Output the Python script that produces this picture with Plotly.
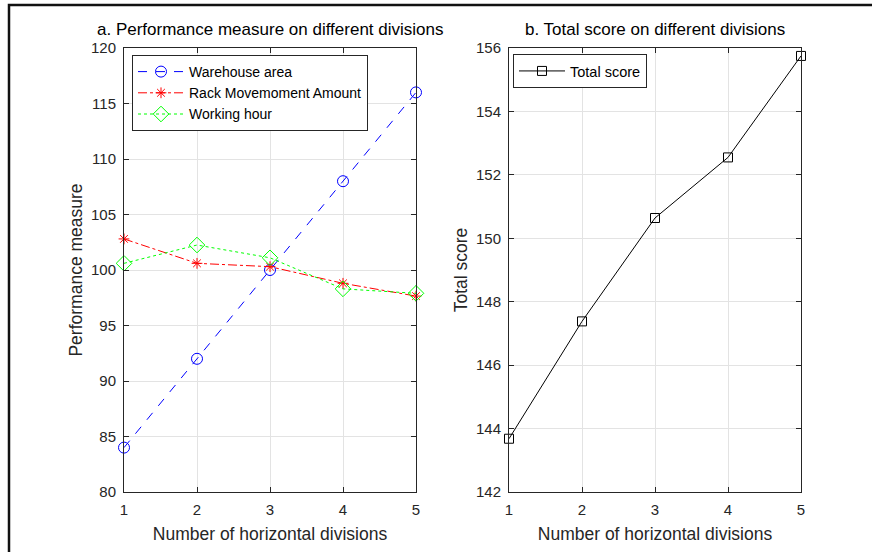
import plotly.graph_objects as go

divisions = [1, 2, 3, 4, 5]
warehouse_area = [84, 92, 100, 108, 116]
rack_movement = [102.8, 100.6, 100.3, 98.8, 97.65]
working_hour = [100.6, 102.25, 101.1, 98.3, 97.9]
total_score = [143.68, 147.38, 150.64, 152.55, 155.75]

W, H = 872, 552
ml, mr, mt, mb = 124, 71, 48, 60
pw = W - ml - mr
ph = H - mt - mb

def px2x(p):
    return (p - ml) / pw

def px2y(p):
    return (H - mb - p) / ph

FONT = "Liberation Sans, Arial, Helvetica, sans-serif"
AX = "#262626"

fig = go.Figure()

fig.add_trace(go.Scatter(x=divisions, y=warehouse_area, name="Warehouse area",
                         mode="lines+markers",
                         line=dict(color="#0000FF", width=1, dash="dash"),
                         marker=dict(symbol="circle-open", size=11, color="#0000FF", line=dict(width=1)),
                         xaxis="x", yaxis="y", legend="legend", cliponaxis=False))
fig.add_trace(go.Scatter(x=divisions, y=rack_movement, name="Rack Movemoment Amount",
                         mode="lines+markers",
                         line=dict(color="#FF0000", width=1, dash="dashdot"),
                         marker=dict(symbol="asterisk-open", size=9, color="#FF0000", line=dict(width=1, color="#FF0000")),
                         xaxis="x", yaxis="y", legend="legend", cliponaxis=False))
fig.add_trace(go.Scatter(x=divisions, y=working_hour, name="Working hour",
                         mode="lines+markers",
                         line=dict(color="#00FF00", width=1, dash="dot"),
                         marker=dict(symbol="diamond-open", size=12, color="#00FF00", line=dict(width=1)),
                         xaxis="x", yaxis="y", legend="legend", cliponaxis=False))
fig.add_trace(go.Scatter(x=divisions, y=total_score, name="Total score",
                         mode="lines+markers",
                         line=dict(color="#000000", width=1),
                         marker=dict(symbol="square-open", size=9, color="#000000", line=dict(width=1, color="#262626")),
                         xaxis="x2", yaxis="y2", legend="legend2", cliponaxis=False))

axis_common = dict(showline=True, linecolor=AX, linewidth=1, mirror="ticks",
                   ticks="inside", ticklen=5, tickcolor=AX, tickwidth=1,
                   showgrid=True, gridcolor="#e3e3e3", gridwidth=1, zeroline=False,
                   tickfont=dict(family=FONT, size=15, color=AX),
                   title_font=dict(family=FONT, size=17.5, color=AX))

xl = px2x(416)
xr0 = px2x(509)

fig.update_layout(
    width=W, height=H,
    margin=dict(l=ml, r=mr, t=mt, b=mb),
    paper_bgcolor="white", plot_bgcolor="white",
    font=dict(family=FONT, color=AX),
    xaxis=dict(domain=[0, xl], range=[1, 5], tickvals=[1, 2, 3, 4, 5], ticklabelstandoff=4,
               title=dict(text="Number of horizontal divisions", standoff=10), anchor="y", **axis_common),
    yaxis=dict(domain=[0, 1], range=[80, 120], tickvals=[80, 85, 90, 95, 100, 105, 110, 115, 120],
               ticklabelstandoff=4,
               title=dict(text="Performance measure", standoff=3), anchor="x", **axis_common),
    xaxis2=dict(domain=[xr0, 1], range=[1, 5], tickvals=[1, 2, 3, 4, 5], ticklabelstandoff=4,
                title=dict(text="Number of horizontal divisions", standoff=10), anchor="y2", **axis_common),
    yaxis2=dict(domain=[0, 1], range=[142, 156], tickvals=[142, 144, 146, 148, 150, 152, 154, 156],
                ticklabelstandoff=4,
                title=dict(text="Total score", standoff=3), anchor="x2", **axis_common),
    legend=dict(x=px2x(132), y=px2y(55), xanchor="left", yanchor="top",
                bgcolor="white", bordercolor=AX, borderwidth=1,
                font=dict(family=FONT, size=14, color="#000000"),
                itemwidth=46, tracegroupgap=0),
    legend2=dict(x=px2x(513), y=px2y(54), xanchor="left", yanchor="top",
                 bgcolor="white", bordercolor=AX, borderwidth=1,
                 font=dict(family=FONT, size=14.5, color="#000000"),
                 itemwidth=46),
    showlegend=True,
    annotations=[
        dict(text="a. Performance measure on different divisions", xref="paper", yref="paper",
             x=xl / 2, y=px2y(29.5), xanchor="center", yanchor="middle", showarrow=False,
             font=dict(family=FONT, size=17, color="#000000")),
        dict(text="b. Total score on different divisions", xref="paper", yref="paper",
             x=(xr0 + 1) / 2, y=px2y(29.5), xanchor="center", yanchor="middle", showarrow=False,
             font=dict(family=FONT, size=17, color="#000000")),
    ],
    shapes=[
        dict(type="path", xref="paper", yref="paper",
             path=f"M {px2x(9)},{px2y(560)} L {px2x(9)},{px2y(5)} L {px2x(880)},{px2y(5)}",
             line=dict(color="#111111", width=2.5)),
    ],
)

fig.write_html("out.html", config={"displayModeBar": False},
               post_script="document.body.style.margin='0';")
